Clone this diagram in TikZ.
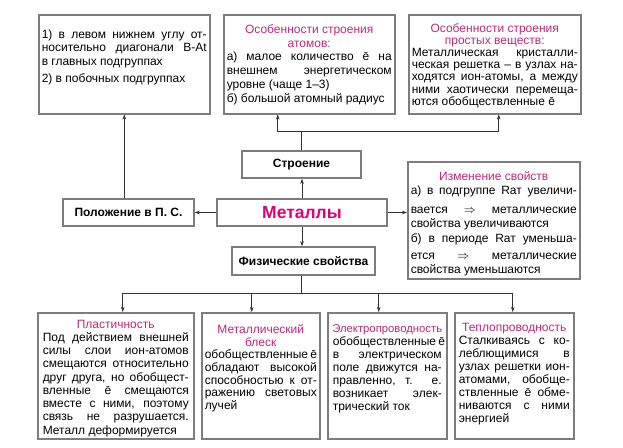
\documentclass[tikz,border=0pt]{standalone}
\usepackage{fontspec}
\setmainfont{Liberation Sans}
\usetikzlibrary{arrows.meta}
\definecolor{framegray}{RGB}{125,125,125}
\definecolor{headpink}{RGB}{196,38,118}
\definecolor{metalpink}{RGB}{226,0,122}
\newcommand{\jl}[1]{\makebox[\linewidth][s]{#1}\\}
\newcommand{\hd}[1]{\makebox[\linewidth][c]{\color{headpink}#1}\\}
\tikzset{
  card/.style={draw=framegray, line width=1.5pt, fill=white, inner xsep=3pt, inner ysep=0pt,
    anchor=north west, font=\fontsize{12}{13.3}\selectfont},
  tag/.style={draw=framegray, line width=1.5pt, inner sep=0pt, font=\bfseries\fontsize{12}{13}\selectfont},
  wire/.style={draw=black!80, line width=0.8pt},
  link/.style={wire, -{Stealth[length=5pt,width=3.6pt]}}
}
\begin{document}
\begin{tikzpicture}[x=1pt,y=-1pt]
\useasboundingbox (0,0) rectangle (623,447);
\node[card, font=\fontsize{12}{13.5}\selectfont] (posinfo) at (38,14) {\parbox[c][99pt][t]{165pt}{\vspace*{15pt}%
  \jl{1) в левом нижнем углу от-}
  \jl{носительно диагонали B-At}
  в главных подгруппах\\[4pt]
  2) в побочных подгруппах}};
\node[card, font=\fontsize{12}{13.7}\selectfont] (atom) at (223,14) {\parbox[c][99pt][t]{165pt}{\vspace*{10pt}%
  \hd{Особенности строения}
  \hd{атомов:}
  \jl{а) малое количество ē на}
  \jl{внешнем энергетическом}
  уровне (чаще 1–3)\\
  б) большой атомный радиус}};
\node[card, font=\fontsize{12}{12.1}\selectfont] (simple) at (408,14) {\parbox[c][99pt][t]{166pt}{\vspace*{9pt}%
  \hd{Особенности строения}
  \hd{простых веществ:}
  \jl{Металлическая кристалли-}
  \jl{ческая решетка – в узлах на-}
  \jl{ходятся ион-атомы, а между}
  \jl{ними хаотически перемеща-}
  ются обобществленные ē}};
\node[card, font=\fontsize{12}{13.5}\selectfont] (change) at (407,161) {\parbox[c][117pt][t]{166pt}{\vspace*{10pt}%
  \hd{Изменение свойств}
  \jl{а) в подгруппе Rат увеличи-}[5.5pt]
  \jl{вается $\Rightarrow$ металлические}[0.5pt]
  свойства увеличиваются\\[1.5pt]
  \jl{б) в периоде Rат уменьша-}[3.5pt]
  \jl{ется $\Rightarrow$ металлические}[0.5pt]
  свойства уменьшаются}};
\node[card, inner xsep=5pt, font=\fontsize{12}{13.25}\selectfont] (plast) at (37,312) {\parbox[c][126pt][t]{146pt}{\vspace*{7pt}%
  \hd{Пластичность}
  \jl{Под действием внешней}
  \jl{силы слои ион-атомов}
  \jl{смещаются относительно}
  \jl{друг друга, но обобщест-}
  \jl{вленные ē смещаются}
  \jl{вместе с ними, поэтому}
  \jl{связь не разрушается.}
  Металл деформируется}};
\node[card, font=\fontsize{12}{12.6}\selectfont] (luster) at (201,312) {\parbox[c][126pt][t]{112pt}{\vspace*{12pt}%
  \hd{Металлический}
  \hd{блеск}
  \jl{обобществленные ē}
  \jl{обладают высокой}
  \jl{способностью к от-}
  \jl{ражению световых}
  лучей}};
\node[card, inner xsep=5pt, font=\fontsize{12}{13}\selectfont] (elec) at (327,312) {\parbox[c][126pt][t]{109pt}{\vspace*{12pt}%
  \hd{\fontsize{11.3}{13}\selectfont Электропроводность}
  \jl{обобществленные ē}
  \jl{в электрическом}
  \jl{поле движутся на-}
  \jl{правленно, т. е.}
  \jl{возникает элек-}
  трический ток}};
\node[card, inner xsep=4pt, font=\fontsize{12}{13}\selectfont] (heat) at (454,312) {\parbox[c][126pt][t]{111pt}{\vspace*{10pt}%
  \hd{Теплопроводность}
  \jl{Сталкиваясь с ко-}
  \jl{леблющимися в}
  \jl{узлах решетки ион-}
  \jl{атомами, обобще-}
  \jl{ствленные ē обме-}
  \jl{ниваются с ними}
  энергией}};
\node[tag, minimum width=119pt, minimum height=27pt] (struct) at (301.5,164.5) {Строение};
\node[tag, minimum width=170pt, minimum height=27pt, text=metalpink,
  font=\bfseries\fontsize{17.5}{18}\selectfont] (metals) at (302,212.5) {Металлы};
\node[tag, minimum width=131pt, minimum height=27pt] (place) at (128.5,212.5) {Положение в П. С.};
\node[tag, minimum width=143pt, minimum height=28pt] (phys) at (303.5,261) {Физические свойства};
\draw[link] (place.north -| posinfo.south) -- (posinfo.south);
\path (struct.north) ++(0,-19) coordinate (topbus);
\draw[link] (struct.north) -- (topbus) -| ([xshift=-31.5pt]atom.south);
\draw[link] (topbus) -| ([xshift=4pt]simple.south);
\draw[link] (metals.north) -- (metals.north |- struct.south);
\draw[link] (metals.west) -- (place.east);
\draw[link] (metals.east) -- (metals.east -| change.west);
\draw[link] (metals.south) -- (metals.south |- phys.north);
\coordinate (botbus) at (301,293);
\draw[wire] (phys.south -| botbus) -- (botbus);
\foreach \fld/\dx in {plast/7,luster/-9,elec/-8.5,heat/-1.5}
  \draw[link] (botbus) -| ([xshift=\dx pt]\fld.north);
\end{tikzpicture}
\end{document}
